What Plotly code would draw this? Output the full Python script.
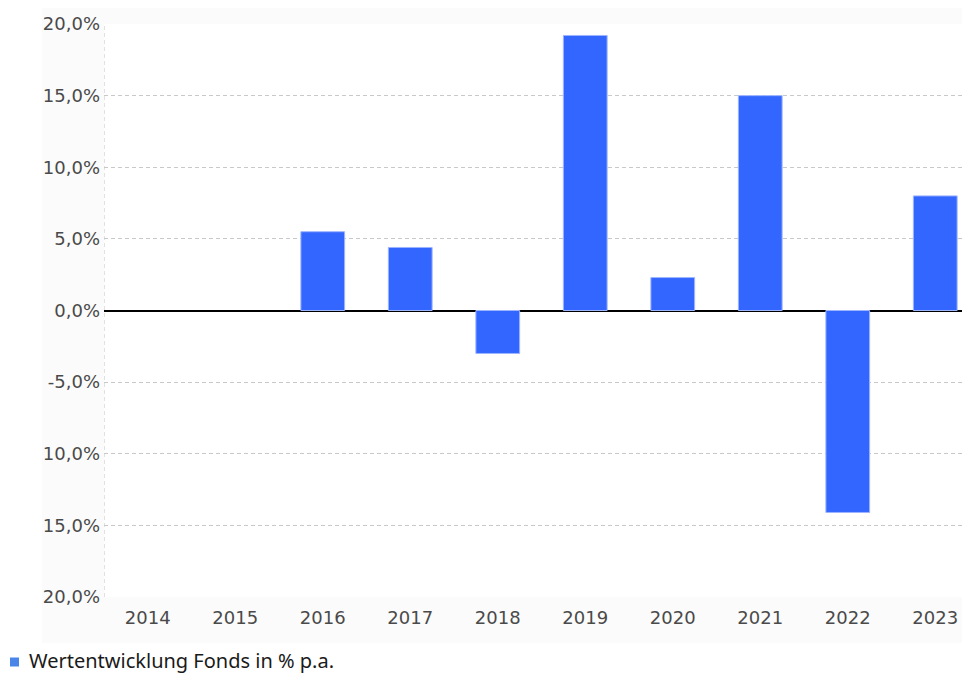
import plotly.graph_objects as go

years = ["2014", "2015", "2016", "2017", "2018", "2019", "2020", "2021", "2022", "2023"]
returns = [None, None, 5.5, 4.4, -3.0, 19.2, 2.3, 15.0, -14.1, 8.0]
y_ticks = [20, 15, 10, 5, 0, -5, -10, -15, -20]
y_tick_labels = ["20,0%", "15,0%", "10,0%", "5,0%", "0,0%", "-5,0%", "10,0%", "15,0%", "20,0%"]
legend_label = "Wertentwicklung Fonds in % p.a."

x_pos = list(range(len(years)))

# page body has an 8px offset; work in window pixels
OFF = 8
W, H = 970, 673
plot_left, plot_top, plot_bottom = 104, 24, 597
ml = plot_left - OFF
mt = plot_top - OFF
mb = (H + OFF) - plot_bottom
pw = W - ml
ph = plot_bottom - plot_top

def px(xw):
    return (xw - plot_left) / pw

def py(yw):
    return (plot_bottom - yw) / ph

band = 87.5
x_hi = -0.5 + pw / band

fig = go.Figure()
fig.add_trace(go.Bar(
    x=x_pos, y=returns, width=0.5,
    marker=dict(color="#3366ff", line=dict(color="#9db4ff", width=1)),
    showlegend=False, hoverinfo="skip",
))

# faint chart container background
fig.add_shape(type="rect", xref="paper", yref="paper",
              x0=px(42), x1=1.05, y0=py(643), y1=py(0),
              fillcolor="#fbfbfb", line=dict(width=0), layer="below")
# white plotting area
fig.add_shape(type="rect", xref="x domain", yref="y domain",
              x0=0, x1=1, y0=0, y1=1,
              fillcolor="white", line=dict(width=0), layer="below")
# dashed y-axis line
fig.add_shape(type="line", xref="x", yref="y", x0=-0.5, x1=-0.5, y0=-20, y1=20,
              line=dict(color="#c4c4c4", width=1, dash="4px,3px"), layer="below")

# legend: square + text
fig.add_shape(type="rect", xref="paper", yref="paper",
              x0=px(10), x1=px(19), y0=py(666.5), y1=py(657.5),
              fillcolor="#4a86e8", line=dict(width=0))
fig.add_annotation(xref="paper", yref="paper", x=px(27), y=py(660),
                   xanchor="left", yanchor="middle", showarrow=False,
                   text=legend_label,
                   font=dict(family="Noto Sans, sans-serif", size=20, color="#1a1a1a"))

fig.update_layout(
    width=W, height=H,
    margin=dict(l=ml, r=0, t=mt, b=mb),
    paper_bgcolor="white", plot_bgcolor="white",
    font=dict(family="DejaVu Sans, Verdana, sans-serif", size=18, color="#555"),
    showlegend=False,
)
fig.update_xaxes(
    range=[-0.5, x_hi], tickmode="array", tickvals=x_pos, ticktext=years,
    showgrid=False, zeroline=False, showline=False, ticks="", ticklabelstandoff=8,
    tickfont=dict(size=18, color="#4a4a4a"), fixedrange=True,
)
fig.update_yaxes(
    range=[-20, 20], tickmode="array", tickvals=y_ticks, ticktext=y_tick_labels,
    showgrid=True, gridcolor="#c8c8c8", griddash="4px,3px", gridwidth=1,
    zeroline=True, zerolinecolor="#000000", zerolinewidth=1.5,
    showline=False, ticks="", ticklabelstandoff=3,
    tickfont=dict(size=18, color="#4a4a4a"), fixedrange=True,
)

fig.write_html("out.html")
